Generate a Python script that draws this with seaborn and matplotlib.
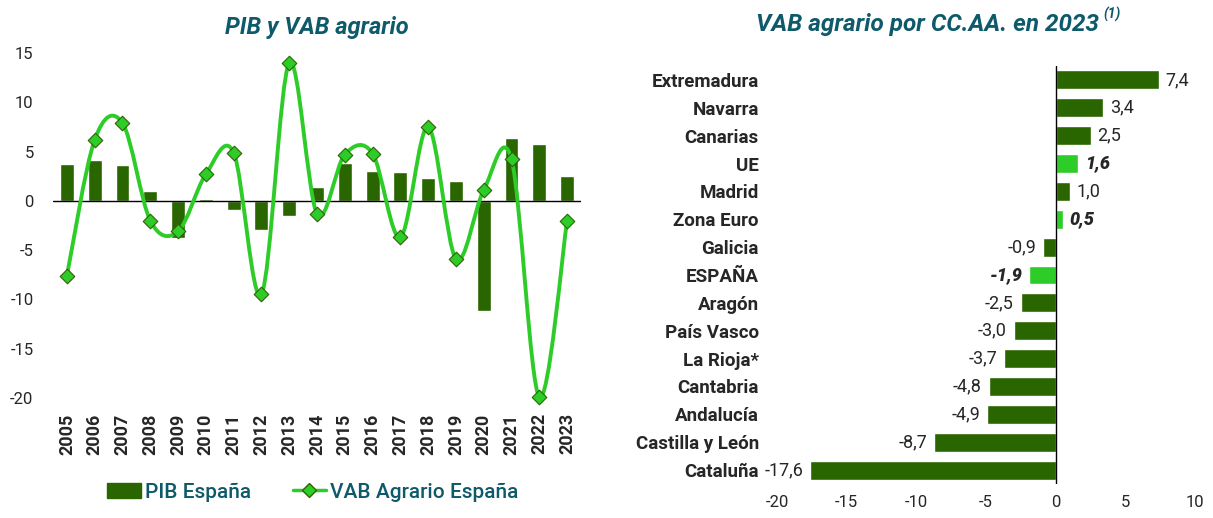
"""PIB y VAB agrario + VAB agrario por CC.AA. en 2023."""
import numpy as np
import pandas as pd
import matplotlib
matplotlib.use("Agg")
import matplotlib.pyplot as plt
from matplotlib.path import Path
from matplotlib.patches import PathPatch, Patch
from matplotlib.lines import Line2D
import seaborn as sns

# --- datos ---
years = [str(y) for y in range(2005, 2024)]
pib = [3.7, 4.1, 3.6, 1.0, -3.8, 0.2, -0.9, -3.0, -1.5, 1.4,
       3.8, 3.0, 2.9, 2.3, 2.0, -11.2, 6.4, 5.8, 2.5]
vab = [-7.6, 6.2, 7.9, -2.0, -3.1, 2.7, 4.9, -9.5, 14.0, -1.3,
       4.7, 4.8, -3.7, 7.5, -5.9, 1.1, 4.2, -19.9, -2.0]

regiones = ["Extremadura", "Navarra", "Canarias", "UE", "Madrid", "Zona Euro",
            "Galicia", "ESPAÑA", "Aragón", "País Vasco", "La Rioja*",
            "Cantabria", "Andalucía", "Castilla y León", "Cataluña"]
vab_ccaa = [7.4, 3.4, 2.5, 1.6, 1.0, 0.5, -0.9, -1.9, -2.5, -3.0, -3.7,
            -4.8, -4.9, -8.7, -17.6]
destacados = ["UE", "Zona Euro", "ESPAÑA"]

# --- estilo ---
DARK = "#2a6600"
LIGHT = "#2ecc28"
TEAL = "#0e5a6b"

sns.set_style("white")
plt.rcParams["font.family"] = ["Roboto", "DejaVu Sans"]
plt.rcParams["axes.unicode_minus"] = False


def fmt(v):
    return f"{v:.1f}".replace(".", ",")


def smooth_path(xs, ys):
    """Curva suavizada tipo Excel (Catmull-Rom como Bezier cúbico)."""
    pts = np.column_stack([xs, ys]).astype(float)
    ext = np.vstack([pts[0], pts, pts[-1]])
    verts = [pts[0]]
    codes = [Path.MOVETO]
    for i in range(len(pts) - 1):
        p0, p1, p2, p3 = ext[i], ext[i + 1], ext[i + 2], ext[i + 3]
        verts += [p1 + (p2 - p0) / 6, p2 - (p3 - p1) / 6, p2]
        codes += [Path.CURVE4] * 3
    return Path(verts, codes)


fig = plt.figure(figsize=(12.13, 5.18), dpi=100)

# --- panel izquierdo ---
ax1 = fig.add_axes([0.0437, 0.2317, 0.4353, 0.666])
df1 = pd.DataFrame({"year": years, "pib": pib, "vab": vab})
sns.barplot(data=df1, x="year", y="pib", color=DARK, width=0.5,
            saturation=1, ax=ax1)
xpos = np.arange(len(years))
ax1.add_patch(PathPatch(smooth_path(xpos, vab), facecolor="none",
                        edgecolor=LIGHT, lw=2.8, zorder=3))
sns.scatterplot(x=xpos, y=vab, marker="D", s=55, color=LIGHT,
                edgecolor=DARK, linewidth=0.8, zorder=4, ax=ax1,
                clip_on=False)
ax1.axhline(0, color="black", lw=1, zorder=2)
ax1.set_ylim(-20, 15)
ax1.set_xlim(-0.5, len(years) - 0.5)
ax1.set_yticks(range(-20, 16, 5))
ax1.set_xlabel("")
ax1.set_ylabel("")
sns.despine(ax=ax1, left=True, bottom=True)
ax1.tick_params(axis="y", length=0, labelsize=12, pad=14)
ax1.tick_params(axis="x", length=0, labelsize=13, pad=11)
for lab in ax1.get_xticklabels():
    lab.set_rotation(90)
    lab.set_fontweight("bold")
ax1.set_title("PIB y VAB agrario", fontsize=17, fontweight="bold",
              fontstyle="italic", color=TEAL, pad=14)

handles = [Patch(facecolor=DARK, edgecolor=DARK),
           Line2D([0], [0], color=LIGHT, lw=2.5, marker="D", markersize=7,
                  markerfacecolor=LIGHT, markeredgecolor=DARK)]
fig.legend(handles, ["PIB España", "VAB Agrario España"], loc="center",
           bbox_to_anchor=(0.258, 0.05), ncol=2, frameon=False,
           prop={"size": 15, "weight": "medium"}, labelcolor=TEAL,
           handlelength=1.6, handletextpad=0.2, columnspacing=2.0)

# --- panel derecho ---
ax2 = fig.add_axes([0.6406, 0.0656, 0.3446, 0.807])
df2 = pd.DataFrame({"region": regiones, "vab": vab_ccaa})
colores = [LIGHT if r in destacados else DARK for r in regiones]
sns.barplot(data=df2, x="vab", y="region", hue="region", palette=colores,
            legend=False, width=0.68, saturation=1, ax=ax2)
ax2.axvline(0, color="black", lw=1)
ax2.set_xlim(-20, 10)
ax2.set_xticks(range(-20, 11, 5))
ax2.set_xlabel("")
ax2.set_ylabel("")
sns.despine(ax=ax2, left=True, bottom=True)
ax2.tick_params(axis="x", length=0, labelsize=12, pad=8)
ax2.tick_params(axis="y", length=0, labelsize=13.5, pad=13)
for lab in ax2.get_yticklabels():
    lab.set_fontweight("bold")
for i, (r, v) in enumerate(zip(regiones, vab_ccaa)):
    bold = r in destacados
    ax2.text(v + (0.5 if v >= 0 else -0.5), i, fmt(v),
             ha="left" if v >= 0 else "right", va="center", fontsize=13,
             fontweight="heavy" if bold else "normal",
             fontstyle="italic" if bold else "normal")

# título con superíndice (1)
titulo = fig.text(0.765, 0.953, "VAB agrario por CC.AA. en 2023",
                  ha="center", va="center", fontsize=17.5, fontweight="bold",
                  fontstyle="italic", color=TEAL)
ax2.annotate("(1)", xy=(1.0, 0.62), xycoords=titulo, xytext=(3, 0),
             textcoords="offset points", ha="left", va="bottom",
             fontsize=10, fontweight="bold", fontstyle="italic", color=TEAL,
             annotation_clip=False)

fig.savefig("out.png", dpi=100)
